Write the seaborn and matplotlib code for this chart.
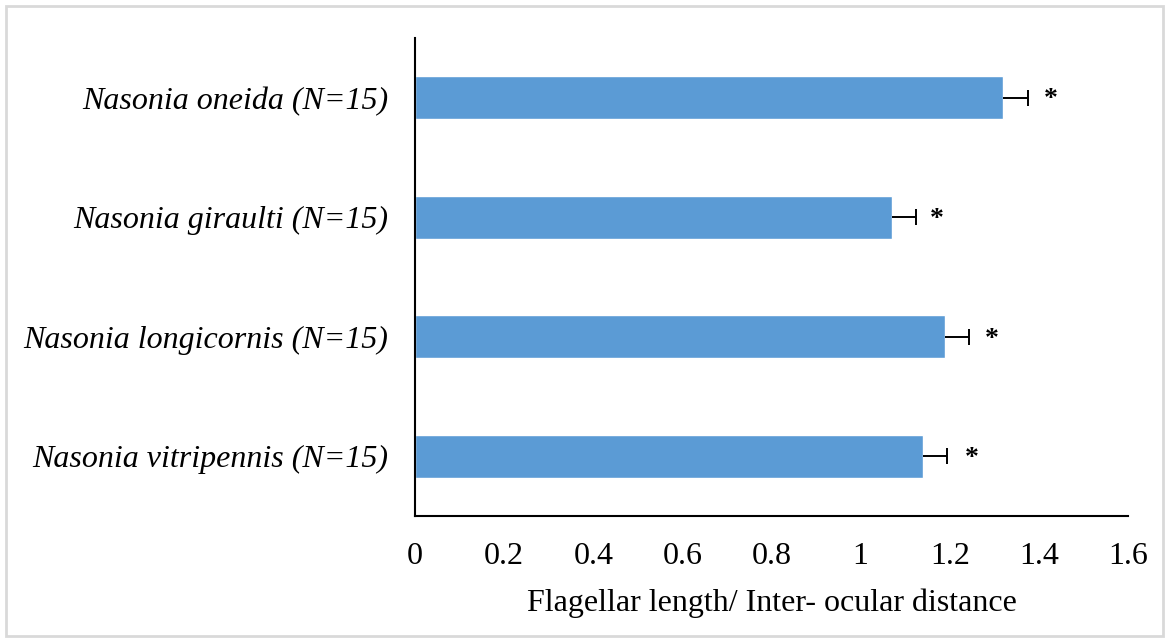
import numpy as np
import pandas as pd
import seaborn as sns
import matplotlib.pyplot as plt
from matplotlib.patches import Rectangle

species = ["Nasonia oneida (N=15)", "Nasonia giraulti (N=15)",
           "Nasonia longicornis (N=15)", "Nasonia vitripennis (N=15)"]
ratio = [1.32, 1.07, 1.19, 1.14]
err = [0.055, 0.054, 0.054, 0.054]
star_x = [1.427, 1.171, 1.295, 1.25]
x_ticks = [0, 0.2, 0.4, 0.6, 0.8, 1, 1.2, 1.4, 1.6]
x_ticklabels = ["0", "0.2", "0.4", "0.6", "0.8", "1", "1.2", "1.4", "1.6"]

sns.set_style("white")
plt.rcParams['font.family'] = ['Liberation Serif', 'DejaVu Serif']
plt.rcParams['text.color'] = 'black'
plt.rcParams['axes.labelcolor'] = 'black'
plt.rcParams['xtick.color'] = 'black'
plt.rcParams['ytick.color'] = 'black'

df = pd.DataFrame({"species": species, "ratio": ratio})

fig = plt.figure(figsize=(11.69, 6.41), dpi=100)
ax = fig.add_axes([0.355, 0.195, 0.61, 0.746])

sns.barplot(data=df, x="ratio", y="species", color="#5B9BD5", saturation=1,
            width=0.36, errorbar=None, ax=ax)

# one-sided error bars: line from bar end, cap only at the far end
ypos = np.arange(len(species))
ends = np.array(ratio) + np.array(err)
ax.hlines(ypos, ratio, ends, color="black", linewidth=1.4)
ax.plot(ends, ypos, linestyle="none", marker="|", markersize=11,
        markeredgewidth=1.4, color="black")

for x, y in zip(star_x, ypos):
    ax.text(x, y + 0.02, "*", fontsize=20, fontweight="bold",
            ha="center", va="center")

ax.set_xlim(0, 1.6)
ax.set_ylim(3.5, -0.5)
ax.set_xticks(x_ticks)
ax.set_xticklabels(x_ticklabels, fontsize=23)
ax.tick_params(axis="y", labelsize=23, length=0, pad=19)
ax.tick_params(axis="x", length=0, pad=19)
for lab in ax.get_yticklabels():
    lab.set_fontstyle("italic")
ax.set_ylabel("")
ax.set_xlabel("Flagellar length/ Inter- ocular distance", fontsize=23, labelpad=12)

sns.despine(ax=ax)
ax.spines["left"].set_linewidth(1.5)
ax.spines["bottom"].set_linewidth(1.5)
ax.spines["left"].set_color("black")
ax.spines["bottom"].set_color("black")

fig.patches.append(Rectangle((0.005, 0.008), 0.99, 0.983, transform=fig.transFigure,
                             fill=False, edgecolor="#d9d9d9", linewidth=2))

fig.savefig("out.png", dpi=100)
